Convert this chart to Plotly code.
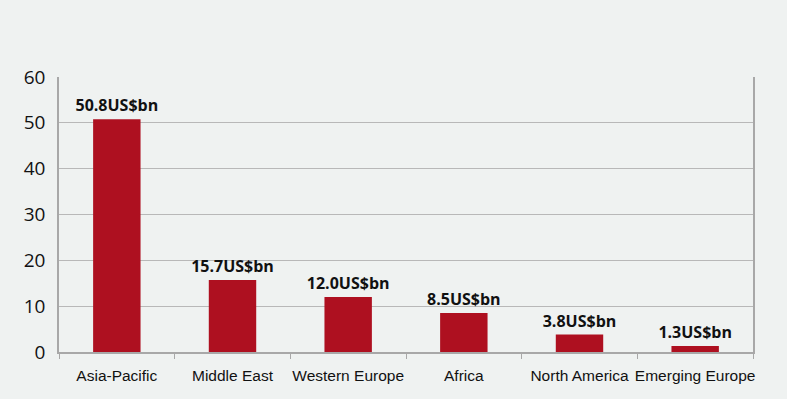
import plotly.graph_objects as go

categories = ["Asia-Pacific", "Middle East", "Western Europe", "Africa", "North America", "Emerging Europe"]
values = [50.8, 15.7, 12.0, 8.5, 3.8, 1.3]
labels = [f"{v:.1f}US$bn" for v in values]
y_ticks = [0, 10, 20, 30, 40, 50, 60]

fig = go.Figure(go.Bar(
    x=categories, y=values, text=labels, textposition="outside",
    constraintext="none",
    textfont=dict(family="Open Sans", size=16, color="#111111", weight="bold"),
    marker=dict(color="#ae1020", line=dict(width=0)),
    cliponaxis=False,
))

fig.update_layout(
    width=787, height=399,
    margin=dict(l=59, r=34, t=77, b=47),
    paper_bgcolor="#eff2f1", plot_bgcolor="#eff2f1",
    bargap=0.59, showlegend=False,
    xaxis=dict(
        showline=True, linecolor="#a8a8a8", linewidth=1.5,
        ticks="outside", tickson="boundaries", ticklen=5, tickcolor="#a8a8a8",
        tickangle=0, ticklabelstandoff=9,
        tickfont=dict(family="Liberation Sans", size=15.5, color="#111111"),
        mirror=False,
    ),
    yaxis=dict(
        range=[0, 60], tickvals=y_ticks, showgrid=True, gridcolor="#b8b8b8", gridwidth=1.2,
        showline=True, linecolor="#a8a8a8", linewidth=1.5, mirror=True,
        tickfont=dict(family="Open Sans", size=19, color="#111111"),
        ticks="outside", ticklen=8, tickcolor="rgba(0,0,0,0)", zeroline=False,
    ),
)
fig.write_html("out.html", config={"displayModeBar": False},
               post_script="document.body.style.margin='0';")
